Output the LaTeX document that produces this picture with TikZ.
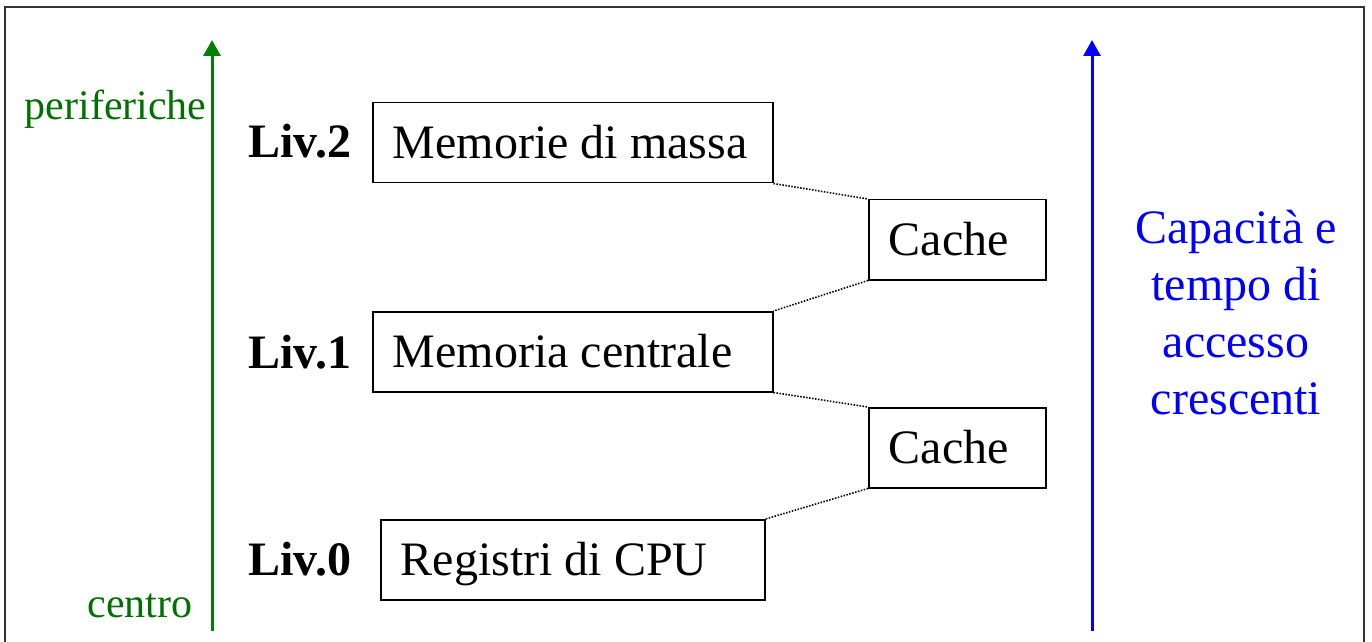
\documentclass[tikz,border=0pt]{standalone}
\usepackage{fontspec}
\setmainfont{Liberation Serif}
\usetikzlibrary{arrows.meta}
\definecolor{levgreen}{RGB}{0,128,0}
\definecolor{levgreentext}{RGB}{0,112,0}
\definecolor{levblue}{RGB}{0,0,255}
\tikzset{
  memblock/.style={draw, line width=0.75pt, anchor=north west, inner ysep=0pt,
    inner xsep=10pt, minimum height=40pt,
    text height=18pt, text depth=2pt,
    font=\fontsize{24pt}{28.5pt}\selectfont},
  levlabel/.style={anchor=base west, inner sep=0pt,
    font=\fontsize{24pt}{28.5pt}\selectfont\bfseries},
  sidelabel/.style={anchor=base east, inner sep=0pt, text=levgreentext,
    font=\fontsize{21pt}{25pt}\selectfont},
  link/.style={line width=0.8pt, dash pattern=on 0.75pt off 0.75pt},
  axis/.style={line width=1.5pt, -{Triangle[width=8.5pt,length=8pt]}}
}
\newcommand{\blocktext}[2]{\makebox[#1][l]{#2}}
\begin{document}
\begin{tikzpicture}[x=0.5pt, y=-0.5pt]
  \useasboundingbox (0,0) rectangle (1372,642);
  % outer frame, open at the bottom edge of the page
  \draw[line width=1pt, black!80] (5,660) -- (5,7) -- (1364,7) -- (1364,660);

  % left axis: from the centre to the peripherals
  \coordinate (gbot) at (212,631);
  \coordinate (gtop) at (212,40);
  \draw[axis, levgreen] (gbot) -- (gtop);
  \node[sidelabel] (peri) at (207,120) {periferiche};
  \node[sidelabel] (cent) at (193,617) {centro};

  % right axis: growing capacity and access time
  \coordinate (bbot) at (1092,631);
  \coordinate (btop) at (1092,40);
  \draw[axis, levblue] (bbot) -- (btop);
  \node[anchor=north, inner sep=0pt, align=center, text=levblue,
        font=\fontsize{24pt}{28.5pt}\selectfont] (capa) at (1236,210)
        {Capacità e\\tempo di\\accesso\\crescenti};

  % memory levels
  \node[memblock] (mass) at (372,102) {\blocktext{180pt}{Memorie di massa}};
  \node[memblock] (c1) at (868,199) {\blocktext{68.5pt}{Cache}};
  \node[memblock] (main) at (372,311) {\blocktext{180pt}{Memoria centrale}};
  \node[memblock] (c0) at (868,407) {\blocktext{68.5pt}{Cache}};
  \node[memblock] (regs) at (380,519) {\blocktext{172pt}{Registri di CPU}};

  \node[levlabel] (l2) at (248,158) {Liv.2};
  \node[levlabel] (l1) at (248,368) {Liv.1};
  \node[levlabel] (l0) at (248,575) {Liv.0};

  % caches sitting between adjacent levels
  \draw[link] (mass.south east) -- (c1.north west);
  \draw[link] (c1.south west) -- (main.north east);
  \draw[link] (main.south east) -- (c0.north west);
  \draw[link] (c0.south west) -- (regs.north east);
\end{tikzpicture}
\end{document}
